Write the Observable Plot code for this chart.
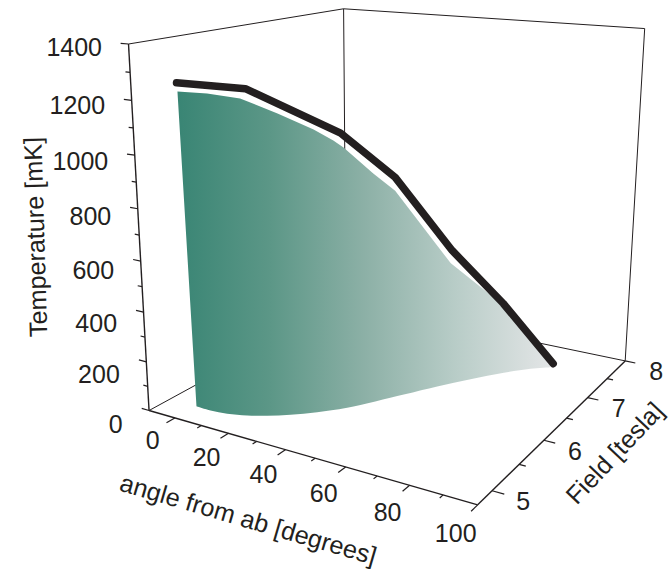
<!DOCTYPE html><html><head><meta charset="utf-8">
<script src="https://cdn.jsdelivr.net/npm/d3@7"></script>
<script src="https://cdn.jsdelivr.net/npm/@observablehq/plot@0.6"></script>
<style>html,body{margin:0;background:#fff}svg{display:block}</style></head><body><div id="chart"></div>
<script>
// ---- data ----
const angleTicks=[0,20,40,60,80,100];
const angleMinorTicks=[10,30,50,70,90];
const fieldTicks=[5,6,7,8];
const fieldMinorTicks=[5.5,6.5,7.5];
const tempTicks=[0,200,400,600,800,1000,1200,1400];
const tempMinorTicks=[100,300,500,700,900,1100,1300];

const lineAngle=[-1.6,19.2,38.8,48.9,59.1,69.0,81.6];
const lineField=[5.03,5.16,5.69,6.09,6.60,7.10,7.48];
const lineTemp=[1255,1249,1076,891,568,305,18];

const surfAngle=[-1.4,8.4,17.8,26.5,33.7,37.4,39.3,45.1,48.9,58.9,67.9,80.7];
const surfField=[5.03,5.06,5.14,5.30,5.51,5.64,5.71,5.91,6.09,6.59,7.04,7.48];
const surfTemp=[1224,1226,1214,1160,1096,1051,1022,916,840,516,323,7];

const baseAngle=[0.28,5.84,11.58,17.42,22.67,28.23,34.07,40.15,50.06,56.10,62.56,69.52,75.63,80.73];
const baseField=[5.035,5.029,5.050,5.113,5.197,5.319,5.483,5.696,6.201,6.516,6.825,7.124,7.344,7.479];

// ---- box limits ----
const aMin=-10,aMax=100,fMin=4.75,fMax=8,tMin=0,tMax=1400;

// ---- camera: perspective calibrated on the visible box corners ----
const W=672,H=569;
const view=[[aMin,fMin,tMin,149,410.5],[aMin,fMin,tMax,127.7,43.3],[aMax,fMin,tMin,477,504],
            [aMin,fMax,tMin,345,302],[aMin,fMax,tMax,343.5,8.5],[aMax,fMax,tMin,625,360.7],[aMax,fMax,tMax,644,28]];
const norm=(a,f,T)=>[(a-aMin)/(aMax-aMin),(f-fMin)/(fMax-fMin),T/tMax];
function solve(A,b){const n=b.length;A=A.map((r,i)=>[...r,b[i]]);
  for(let i=0;i<n;i++){let m=i;for(let k=i;k<n;k++)if(Math.abs(A[k][i])>Math.abs(A[m][i]))m=k;[A[i],A[m]]=[A[m],A[i]];
    for(let k=0;k<n;k++)if(k!=i){const c=A[k][i]/A[i][i];for(let j=i;j<=n;j++)A[k][j]-=c*A[i][j];}}
  return A.map((r,i)=>r[n]/r[i]);}
const R=[],Q=[];
for(const [a,f,T,x,y] of view){const [u,v,w]=norm(a,f,T);
  R.push([u,v,w,1,0,0,0,0,-x*u,-x*v,-x*w]);Q.push(x);
  R.push([0,0,0,0,u,v,w,1,-y*u,-y*v,-y*w]);Q.push(y);}
const idx=d3.range(11);
const cam=solve(idx.map(i=>idx.map(j=>d3.sum(R,r=>r[i]*r[j]))),idx.map(i=>d3.sum(R,(r,k)=>r[i]*Q[k])));
const proj=(a,f,T)=>{const [u,v,w]=norm(a,f,T),d=cam[8]*u+cam[9]*v+cam[10]*w+1;
  return {x:(cam[0]*u+cam[1]*v+cam[2]*w+cam[3])/d,y:(cam[4]*u+cam[5]*v+cam[6]*w+cam[7])/d};};
const seg=(p,q)=>{const A=proj(...p),B=proj(...q);return {x1:A.x,y1:A.y,x2:B.x,y2:B.y};};

// ---- box edges ----
const frontEdges=[
 [[aMin,fMin,tMin],[aMin,fMin,tMax]],[[aMin,fMin,tMin],[aMax,fMin,tMin]],[[aMax,fMin,tMin],[aMax,fMax,tMin]]
].map(e=>seg(...e));
const backEdges=[
 [[aMin,fMin,tMin],[aMin,fMax,tMin]],[[aMin,fMax,tMin],[aMax,fMax,tMin]],[[aMin,fMax,tMin],[aMin,fMax,tMax]],
 [[aMax,fMax,tMin],[aMax,fMax,tMax]],[[aMin,fMin,tMax],[aMin,fMax,tMax]],[[aMin,fMax,tMax],[aMax,fMax,tMax]]
].map(e=>seg(...e));

// ---- ticks ----
const ticks=[
 ...tempTicks.map(t=>seg([aMin,fMin,t],[aMin-2.9,fMin,t])),
 ...tempMinorTicks.map(t=>seg([aMin,fMin,t],[aMin-1.7,fMin,t])),
 ...angleTicks.map(a=>seg([a,fMin,tMin],[a,fMin-0.11,tMin])),
 ...angleMinorTicks.map(a=>seg([a,fMin,tMin],[a,fMin-0.055,tMin])),
 ...fieldTicks.map(f=>seg([aMax,f,tMin],[aMax+3.5,f,tMin])),
 ...fieldMinorTicks.map(f=>seg([aMax,f,tMin],[aMax+2,f,tMin]))
];

// ---- labels ----
const ink="#231f20",font="'Liberation Sans',Arial,sans-serif",fs=25;
const tempLabels=tempTicks.map(t=>{const p=proj(aMin,fMin,t);return {x:p.x-26.5,y:p.y+14.5-0.0075*t,s:String(t)};});
const angleLabels=angleTicks.map(a=>{const p=proj(a,fMin,tMin);return {x:p.x-22,y:p.y+23+0.06*a,s:String(a)};});
const fieldLabels=fieldTicks.map(f=>{const p=proj(aMax,f,tMin);return {x:p.x+31,y:p.y+11.5,s:String(f)};});
const at=(p,dx,dy,s,rotate)=>({x:p.x+dx,y:p.y+dy,s,rotate});
const titles=[
 at(proj(aMin,fMin,700),-103,2,"Temperature [mK]",-91.7),
 at(proj(45,fMin,tMin),-52,66,"angle from ab [degrees]",16.3),
 at(proj(aMax,6.375,tMin),54,30,"Field [tesla]",-46.7)
];

// ---- curves ----
const lineData=lineAngle.map((a,i)=>proj(a,lineField[i],lineTemp[i]));
const surfData=[...surfAngle.map((a,i)=>proj(a,surfField[i],surfTemp[i])),
                ...baseAngle.map((a,i)=>proj(a,baseField[i],tMin)).reverse()];

// straight along the top of the surface, smooth along its foot
const surfaceCurve=ctx=>{const pts=[];return {
  areaStart(){},areaEnd(){},lineStart(){pts.length=0;},
  point(x,y){pts.push([+x,+y]);},
  lineEnd(){
    pts.slice(0,surfAngle.length).forEach(([x,y],i)=>i?ctx.lineTo(x,y):ctx.moveTo(x,y));
    const c=d3.curveCatmullRom(ctx);
    c.areaStart();c.lineStart();c.lineEnd();c.lineStart();
    pts.slice(surfAngle.length).forEach(([x,y])=>c.point(x,y));
    c.lineEnd();
  }};};

function gradient(){
  const defs=d3.create("svg:defs");
  const g=defs.append("linearGradient").attr("id","surfaceFill").attr("x1",0).attr("x2",1).attr("y1",0).attr("y2",0);
  [[0,"#398574"],[0.25,"#5c9787"],[0.5,"#8cb0a6"],[0.75,"#b9cdc8"],[1,"#e3e5e6"]]
    .forEach(([o,c])=>g.append("stop").attr("offset",o).attr("stop-color",c));
  return defs.node();
}
const txt=(data,opts)=>Plot.text(data,{x:"x",y:"y",text:"s",fill:ink,fontSize:fs,fontFamily:font,lineAnchor:"middle",...opts});

const chart=Plot.plot({
  width:W,height:H,margin:0,
  x:{domain:[0,W],range:[0,W],axis:null},
  y:{domain:[0,H],range:[0,H],axis:null},
  style:{background:"#fff"},
  marks:[
    gradient,
    Plot.link(backEdges,{x1:"x1",y1:"y1",x2:"x2",y2:"y2",stroke:ink,strokeWidth:1}),
    Plot.link(frontEdges,{x1:"x1",y1:"y1",x2:"x2",y2:"y2",stroke:ink,strokeWidth:1.4}),
    Plot.link(ticks,{x1:"x1",y1:"y1",x2:"x2",y2:"y2",stroke:ink,strokeWidth:1.2}),
    Plot.line(surfData,{x:"x",y:"y",fill:"url(#surfaceFill)",stroke:"none",curve:surfaceCurve}),
    Plot.line(lineData,{x:"x",y:"y",stroke:ink,strokeWidth:7.5,strokeLinecap:"round",strokeLinejoin:"miter"}),
    txt(tempLabels,{textAnchor:"end",letterSpacing:"-1.2px"}),
    txt(angleLabels,{textAnchor:"middle",letterSpacing:"-1.2px"}),
    txt(fieldLabels,{textAnchor:"middle",letterSpacing:"-1.2px"}),
    ...titles.map(t=>txt([t],{textAnchor:"middle",rotate:t.rotate,fontSize:25.2}))
  ]
});
document.getElementById("chart").append(chart);
</script></body></html>
